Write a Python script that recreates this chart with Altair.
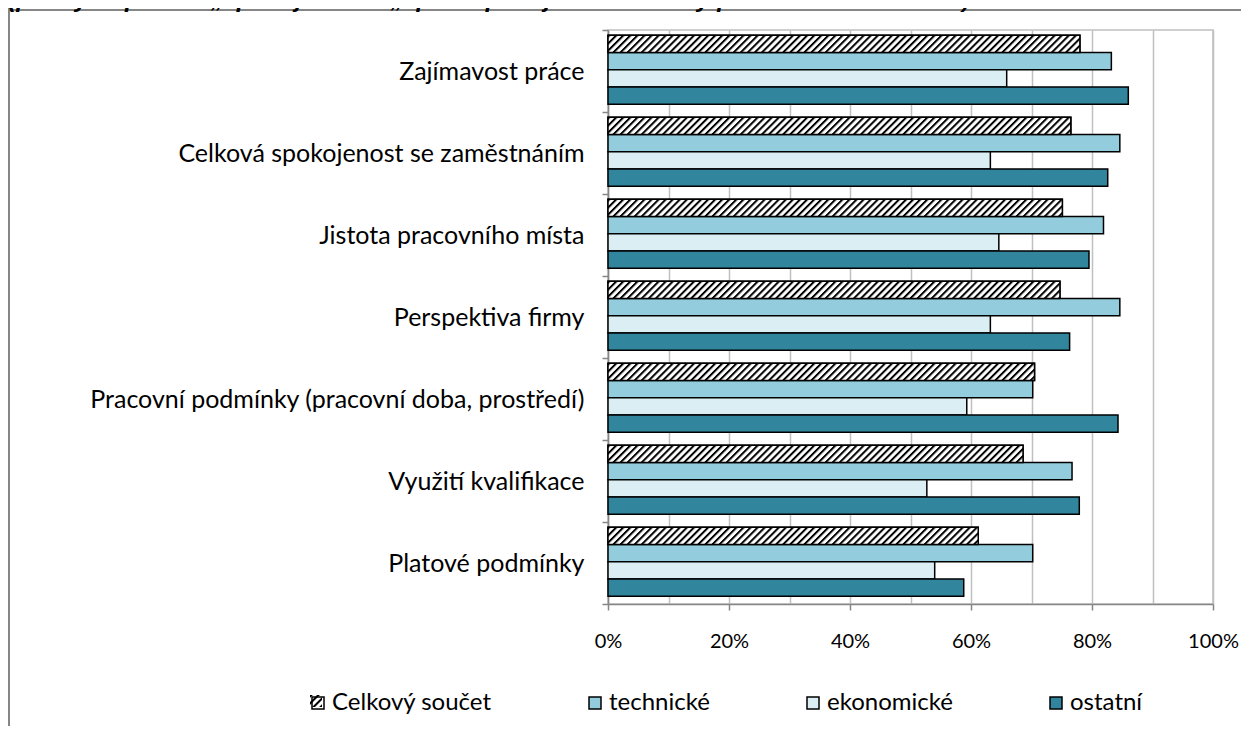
import base64
import altair as alt
import pandas as pd

categories = [
    "Zajímavost práce",
    "Celková spokojenost se zaměstnáním",
    "Jistota pracovního místa",
    "Perspektiva firmy",
    "Pracovní podmínky (pracovní doba, prostředí)",
    "Využití kvalifikace",
    "Platové podmínky",
]
series = ["Celkový součet", "technické", "ekonomické", "ostatní"]
celkovy = [0.780, 0.765, 0.751, 0.747, 0.705, 0.686, 0.612]
technicke = [0.832, 0.846, 0.819, 0.846, 0.702, 0.767, 0.702]
ekonomicke = [0.659, 0.632, 0.646, 0.632, 0.593, 0.527, 0.540]
ostatni = [0.860, 0.826, 0.795, 0.763, 0.843, 0.779, 0.588]
x_ticks = [0, 0.1, 0.2, 0.3, 0.4, 0.5, 0.6, 0.7, 0.8, 0.9, 1.0]
colors = ["transparent", "#93cddd", "#daeef3", "#31859c"]
title_text = "(podíly odpovědí „spokojen/a“ a „spíše spokojen/a“ členěny podle oboru vzdělání)"

rows = []
for s, vals in zip(series, [celkovy, technicke, ekonomicke, ostatni]):
    for c, v in zip(categories, vals):
        rows.append({"cat": c, "series": s, "value": v})
df = pd.DataFrame(rows)

hatch_svg = (
    "<svg xmlns='http://www.w3.org/2000/svg' width='100%' height='100%'>"
    "<defs><pattern id='h' width='5' height='5' patternUnits='userSpaceOnUse' "
    "patternTransform='rotate(45)'>"
    "<rect width='5' height='5' fill='white'/><rect width='2' height='5' fill='black'/>"
    "</pattern></defs><rect width='100%' height='100%' fill='url(#h)'/></svg>"
)
hatch_uri = "data:image/svg+xml;base64," + base64.b64encode(hatch_svg.encode("utf-8")).decode()

FONT = "Lato"
GRID = "#c0c0c0"
AXC = "#868686"

X = alt.X(
    "value:Q",
    scale=alt.Scale(domain=[0, 1], nice=False),
    axis=alt.Axis(
        title=None,
        values=x_ticks,
        format=".0%",
        labelExpr="(round(datum.value*10) % 2 == 0) ? format(datum.value, '.0%') : ''",
        grid=True,
        gridColor=GRID,
        gridWidth=1.5,
        tickSize=6,
        tickColor=AXC,
        tickWidth=1.5,
        tickOpacity={"condition": {"test": "round(datum.value*10) % 2 == 0", "value": 1}, "value": 0},
        domainColor=AXC,
        domainWidth=1.5,
        labelFont=FONT,
        labelFontSize=20,
        labelColor="black",
        labelPadding=21,
        labelFlush=False,
    ),
)
Y = alt.Y(
    "cat:N",
    scale=alt.Scale(domain=categories, paddingInner=0, paddingOuter=0),
    axis=alt.Axis(
        title=None,
        tickBand="extent",
        tickSize=6,
        tickColor=AXC,
        tickWidth=1.5,
        domainColor=AXC,
        domainWidth=1.5,
        labelFont=FONT,
        labelFontSize=25,
        labelColor="black",
        labelPadding=18,
        labelLimit=0,
        grid=False,
    ),
)
YO = alt.YOffset("series:N", scale=alt.Scale(domain=series, paddingInner=0, paddingOuter=0.38, align=0.4))

bars = alt.Chart(df).mark_bar(stroke="black", strokeWidth=1.5).encode(
    x=X,
    y=Y,
    yOffset=YO,
    fill=alt.Fill(
        "series:N",
        scale=alt.Scale(domain=series, range=colors),
        legend=alt.Legend(
            title=None,
            orient="none",
            legendX=-302,
            legendY=661,
            direction="horizontal",
            columns=4,
            columnPadding=91,
            symbolType="square",
            symbolSize=144,
            symbolStrokeColor="black",
            symbolStrokeWidth=1.5,
            labelFont=FONT,
            labelFontSize=24,
            labelColor="black",
            labelOffset=2,
            labelExpr="datum.label == 'ekonomické' ? datum.label + '    ' : datum.label",
            padding=0,
            labelLimit=0,
        ),
    ),
)

hatch = alt.Chart(df).transform_filter(alt.datum.series == "Celkový součet").mark_image(aspect=False).encode(
    x=X, x2=alt.datum(0), y=Y, yOffset=YO, url=alt.value(hatch_uri)
)

outline = alt.Chart(df).transform_filter(alt.datum.series == "Celkový součet").mark_bar(
    fillOpacity=0, stroke="black", strokeWidth=1.5
).encode(x=X, y=Y, yOffset=YO)

one = pd.DataFrame({"k": [0]})

# hatched swatch under the (transparent) legend symbol of "Celkový součet"
legend_hatch = alt.Chart(one).mark_image(aspect=False, width=12, height=12, align="left", baseline="top").encode(
    x=alt.value(-298), y=alt.value(665), url=alt.value(hatch_uri)
)

title = alt.Chart(one).mark_text(
    font="Liberation Sans", fontSize=24.5, fontStyle="italic", fontWeight="bold",
    align="left", baseline="alphabetic", color="black",
).encode(x=alt.value(-600), y=alt.value(-23), text=alt.value(title_text))

frame_left = alt.Chart(one).mark_rule(color=AXC, strokeWidth=2).encode(
    x=alt.value(-599), y=alt.value(-45), y2=alt.value(720)
)
frame_top = alt.Chart(one).mark_rule(color=AXC, strokeWidth=2).encode(
    x=alt.value(-599), x2=alt.value(650), y=alt.value(-20)
)

chart = alt.layer(frame_left, frame_top, title, legend_hatch, bars, hatch, outline).properties(
    width=605,
    height=574,
    padding={"top": -24, "left": 0, "right": -18, "bottom": -25},
).configure_view(stroke=GRID, strokeWidth=1.5)

chart.save("out.html", embed_options={"renderer": "svg", "actions": False})
